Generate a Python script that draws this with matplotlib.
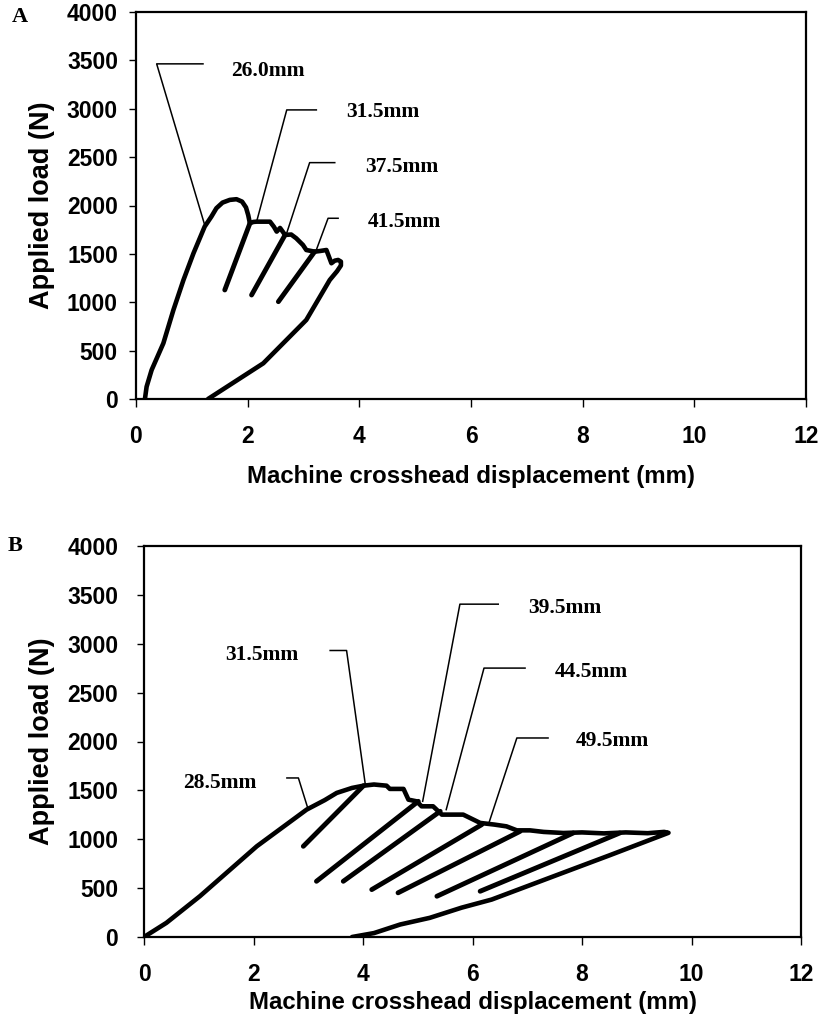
import matplotlib
matplotlib.use("Agg")
import matplotlib.pyplot as plt

# ---- panel A: load-displacement record (envelope incl. final unload) ----
a_env_x = [0.16, 0.19, 0.28, 0.49, 0.67, 0.85, 1.03, 1.23, 1.35, 1.44, 1.55, 1.68, 1.80,
           1.90, 1.97, 2.01, 2.04, 2.10, 2.16, 2.40, 2.47, 2.52, 2.58, 2.67, 2.78, 2.87,
           2.99, 3.05, 3.20, 3.30, 3.41, 3.45, 3.50, 3.56, 3.62, 3.67, 3.67, 3.60, 3.47,
           3.05, 2.28, 1.29]
a_env_y = [0, 127, 300, 576, 920, 1230, 1507, 1782, 1885, 1972, 2030, 2058, 2065,
           2040, 1980, 1900, 1816, 1830, 1833, 1833, 1780, 1730, 1768, 1696, 1700, 1661,
           1592, 1540, 1523, 1530, 1540, 1480, 1403, 1430, 1437, 1420, 1380, 1320, 1230,
           817, 369, 0]
# unload/reload segments (bottom point -> top point)
a_unl_x = [(1.59, 2.04), (2.07, 2.67), (2.55, 3.20)]
a_unl_y = [(1127, 1816), (1075, 1696), (1006, 1523)]
# crack-length labels: text, curve point, elbow, end of horizontal, text pos
a_labels = ["26.0mm", "31.5mm", "37.5mm", "41.5mm"]
a_lab_pt = [(1.23, 1799), (2.16, 1833), (2.70, 1716), (3.23, 1541)]
a_lab_elbow = [(0.37, 3464), (2.70, 2988), (3.11, 2443), (3.44, 1868)]
a_lab_hend = [(1.20, 3464), (3.23, 2988), (3.56, 2443), (3.62, 1868)]
a_lab_txt = [(1.71, 3392), (3.77, 2971), (4.10, 2402), (4.15, 1833)]

# ---- panel B ----
b_env_x = [0, 0.41, 1.02, 2.06, 2.97, 3.30, 3.52, 3.80, 4.01, 4.20, 4.43, 4.49, 4.74,
           4.83, 4.98, 5.07, 5.28, 5.44, 5.83, 6.14, 6.40, 6.62, 6.81, 7.05, 7.30, 7.66,
           8.00, 8.40, 8.80, 9.20, 9.50, 9.58, 8.50, 7.50, 6.35, 5.80, 5.22, 4.68, 4.20,
           3.80]
b_env_y = [0, 145, 417, 928, 1303, 1400, 1474, 1525, 1548, 1560, 1548, 1515, 1515,
           1405, 1388, 1337, 1337, 1252, 1252, 1167, 1150, 1132, 1091, 1091, 1075, 1064,
           1070, 1060, 1070, 1062, 1075, 1066, 835, 625, 383, 300, 196, 128, 40, 0]
b_unl_x = [(2.91, 4.01), (3.15, 5.01), (3.64, 5.41), (4.16, 6.17), (4.64, 6.87),
           (5.35, 7.84), (6.14, 8.69)]
b_unl_y = [(928, 1548), (570, 1388), (570, 1286), (485, 1150), (452, 1081),
           (417, 1064), (468, 1064)]
b_labels = ["28.5mm", "31.5mm", "39.5mm", "44.5mm", "49.5mm"]
b_lab_pt = [(3.00, 1303), (4.04, 1569), (5.09, 1388), (5.52, 1303), (6.29, 1150)]
b_lab_elbow = [(2.82, 1627), (3.70, 2931), (5.77, 3405), (6.21, 2751), (6.81, 2036)]
b_lab_hend = [(2.61, 1627), (3.40, 2931), (6.47, 3405), (6.96, 2751), (7.38, 2036)]
b_lab_txt = [(0.72, 1576), (1.48, 2887), (7.02, 3364), (7.51, 2716), (7.89, 2001)]

x_ticks = [0, 2, 4, 6, 8, 10, 12]
y_ticks = [0, 500, 1000, 1500, 2000, 2500, 3000, 3500, 4000]

sans = "Liberation Sans"
serif = "Liberation Serif"

fig = plt.figure(figsize=(8.22, 10.16), dpi=100)
W, H = 822, 1016


def box(l, t, r, b):
    return [l / W, 1 - b / H, (r - l) / W, (b - t) / H]


def panel(ax, env_x, env_y, unl_x, unl_y, labels, pts, elbows, hends, txts,
          ypad, xlab_y, ylab_x):
    ax.plot(env_x, env_y, color="black", lw=3.3, solid_joinstyle="round",
            solid_capstyle="round")
    for ux, uy in zip(unl_x, unl_y):
        ax.plot(ux, uy, color="black", lw=3.5, solid_capstyle="round")
    for lab, p, e, h, t in zip(labels, pts, elbows, hends, txts):
        ax.plot([p[0], e[0], h[0]], [p[1], e[1], h[1]], color="black", lw=1.1)
        ax.text(t[0], t[1], lab, fontfamily=serif, fontweight="bold",
                fontsize=15.5, ha="left", va="center")
    ax.set_xlim(0, 12)
    ax.set_ylim(0, 4000)
    ax.set_xticks(x_ticks)
    ax.set_yticks(y_ticks)
    for s in ax.spines.values():
        s.set_linewidth(1.6)
    ax.tick_params(axis="x", direction="out", length=6, width=1, pad=13)
    ax.tick_params(axis="y", direction="out", length=5, width=1, pad=ypad)
    for lbl in ax.get_xticklabels() + ax.get_yticklabels():
        lbl.set_fontfamily(sans)
        lbl.set_fontweight("bold")
        lbl.set_fontsize(16.5)
    ax.set_xlabel("Machine crosshead displacement (mm)", fontfamily=sans,
                  fontweight="bold", fontsize=17.3)
    ax.set_ylabel("Applied load (N)", fontfamily=sans, fontweight="bold",
                  fontsize=19.5)
    ax.xaxis.set_label_coords(0.5, xlab_y)
    ax.xaxis.label.set_va("center")
    ax.yaxis.set_label_coords(ylab_x, 0.5)
    ax.yaxis.label.set_va("center")


ax1 = fig.add_axes(box(136, 12, 806, 399))
panel(ax1, a_env_x, a_env_y, a_unl_x, a_unl_y, a_labels, a_lab_pt,
      a_lab_elbow, a_lab_hend, a_lab_txt, 8, -0.20, -0.14)

ax2 = fig.add_axes(box(144, 546, 801, 937))
panel(ax2, b_env_x, b_env_y, b_unl_x, b_unl_y, b_labels, b_lab_pt,
      b_lab_elbow, b_lab_hend, b_lab_txt, 13.5, -0.167, -0.155)

fig.text(20 / W, 1 - 17 / H, "A", fontfamily=serif, fontweight="bold",
         fontsize=16, ha="center", va="center")
fig.text(15 / W, 1 - 546 / H, "B", fontfamily=serif, fontweight="bold",
         fontsize=16, ha="center", va="center")

fig.savefig("out.png", dpi=100)
